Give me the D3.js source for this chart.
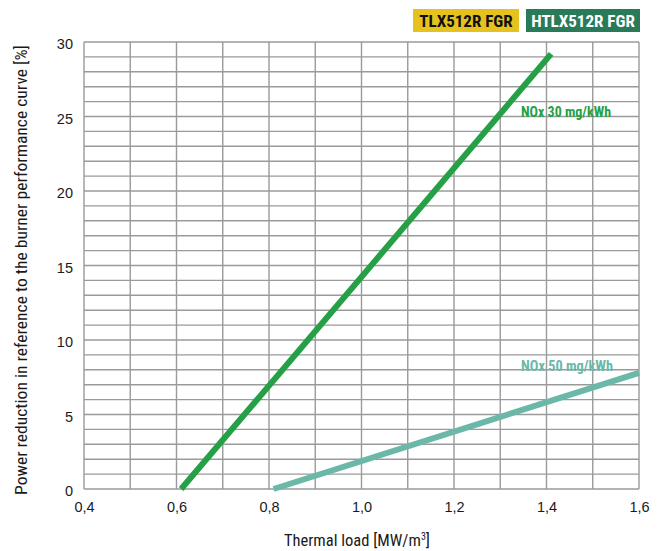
<!DOCTYPE html>
<html><head><meta charset="utf-8">
<script src="https://cdn.jsdelivr.net/npm/d3@7"></script>
<style>
body{margin:0;background:#fff;}
svg{display:block;font-family:"Liberation Sans Narrow","Roboto Condensed","Liberation Sans",Arial,sans-serif;}
</style></head><body>
<svg id="c" width="664" height="551"></svg>
<script>
const xTicks = [0.4, 0.6, 0.8, 1.0, 1.2, 1.4, 1.6];
const yTicks = [0, 5, 10, 15, 20, 25, 30];
const seriesNames = ["NOx 30 mg/kWh", "NOx 50 mg/kWh"];
const nox30X = [0.61, 1.41];
const nox30Y = [0, 29.2];
const nox50X = [0.81, 1.6];
const nox50Y = [0, 7.8];
const legendNames = ["TLX512R FGR", "HTLX512R FGR"];

const svg = d3.select("#c");
const m = {l: 84, r: 639, t: 42, b: 489};
const x = d3.scaleLinear().domain([0.4, 1.6]).range([m.l, m.r]);
const y = d3.scaleLinear().domain([0, 30]).range([m.b, m.t]);

const fmt = d => d3.format(".1f")(d).replace(".", ",");

// grid
const g = svg.append("g");
g.selectAll("line.v").data(d3.range(0, 13).map(i => 0.4 + i * 0.1)).join("line")
  .attr("x1", d => x(d)).attr("x2", d => x(d)).attr("y1", m.t).attr("y2", m.b)
  .attr("stroke", "#9a9a9a").attr("stroke-width", 1.4);
g.selectAll("line.h").data(d3.range(0, 31)).join("line")
  .attr("y1", d => y(d)).attr("y2", d => y(d)).attr("x1", m.l).attr("x2", m.r)
  .attr("stroke", "#9a9a9a").attr("stroke-width", 1.4);

// axes (labels only)
const xa = svg.append("g").attr("transform", `translate(0,${m.b})`)
  .call(d3.axisBottom(x).tickValues(xTicks).tickFormat(fmt).tickSize(0).tickPadding(13));
xa.select(".domain").remove();
xa.selectAll("text").attr("font-size", 14.5).attr("fill", "#1a1a1a")
  .attr("font-family", "'Liberation Sans',Arial,sans-serif");
const ya = svg.append("g").attr("transform", `translate(${m.l},0)`)
  .call(d3.axisLeft(y).tickValues(yTicks).tickSize(0).tickPadding(11));
ya.select(".domain").remove();
ya.selectAll("text").attr("font-size", 14.5).attr("fill", "#1a1a1a")
  .attr("font-family", "'Liberation Sans',Arial,sans-serif").attr("dy", "0.45em");

// lines
const line = d3.line().x(d => x(d[0])).y(d => y(d[1]));
svg.append("path").datum(d3.zip(nox30X, nox30Y)).attr("d", line)
  .attr("fill", "none").attr("stroke", "#26a046").attr("stroke-width", 6);
svg.append("path").datum(d3.zip(nox50X, nox50Y)).attr("d", line)
  .attr("fill", "none").attr("stroke", "#6bb8a9").attr("stroke-width", 6);

// line labels
svg.append("text").attr("x", x(1.345)).attr("y", y(25.0)).text(seriesNames[0])
  .attr("fill", "#26a046").attr("font-weight", "bold").attr("font-size", 14)
  .attr("textLength", 90).attr("lengthAdjust", "spacingAndGlyphs");
svg.append("text").attr("x", x(1.345)).attr("y", y(7.95)).text(seriesNames[1])
  .attr("fill", "#6bb8a9").attr("font-weight", "bold").attr("font-size", 14)
  .attr("textLength", 92).attr("lengthAdjust", "spacingAndGlyphs");

// legend boxes
const leg = [{x: 413, w: 106, fill: "#e6c21e", tc: "#111"}, {x: 526, w: 114, fill: "#287a58", tc: "#fff"}];
leg.forEach((d, i) => {
  svg.append("rect").attr("x", d.x).attr("y", 9).attr("width", d.w).attr("height", 23).attr("fill", d.fill);
  svg.append("text").attr("x", d.x + d.w / 2).attr("y", 27).attr("text-anchor", "middle")
    .attr("fill", d.tc).attr("font-weight", "bold").attr("font-size", 17).text(legendNames[i]);
});

// axis titles
const xt = svg.append("text").attr("x", 357).attr("y", 546).attr("text-anchor", "middle")
  .attr("font-size", 16.5).attr("fill", "#1a1a1a");
xt.append("tspan").text("Thermal load [MW/m");
xt.append("tspan").text("3").attr("font-size", 10).attr("dy", -6);
xt.append("tspan").text("]").attr("dy", 6);
svg.append("text").attr("transform", "translate(27,270) rotate(-90)").attr("text-anchor", "middle")
  .attr("font-size", 17).attr("fill", "#1a1a1a")
  .attr("textLength", 450).attr("lengthAdjust", "spacingAndGlyphs")
  .text("Power reduction in reference to the burner performance curve [%]");
</script></body></html>
